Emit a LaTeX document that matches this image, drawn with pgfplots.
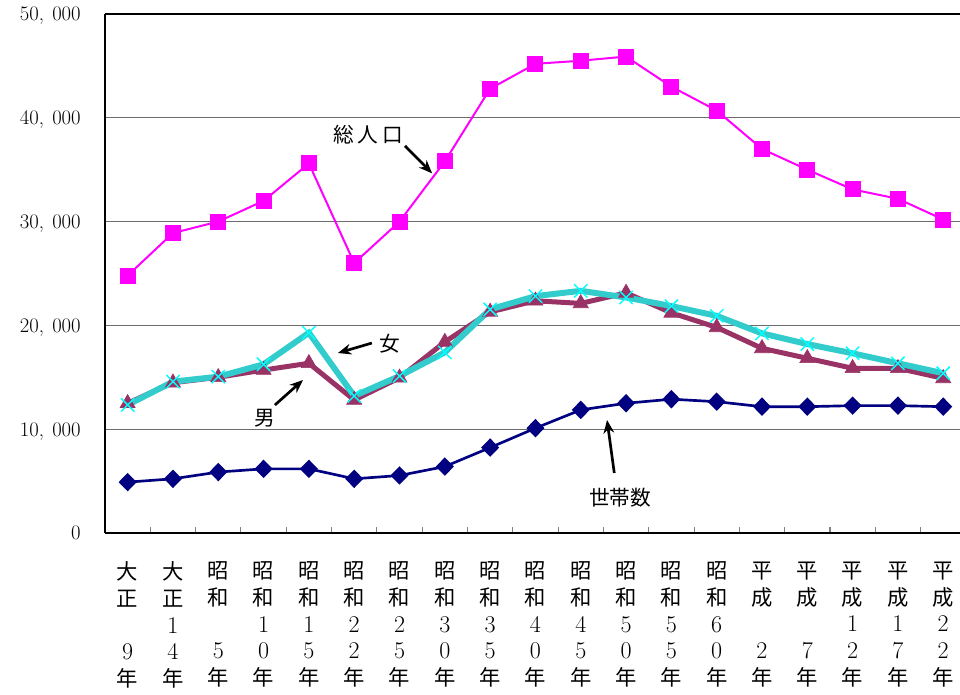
\documentclass[border=0pt]{standalone}
\usepackage{fontspec}
\usepackage{pgfplots}
\pgfplotsset{compat=1.18}
\usetikzlibrary{arrows.meta}
\newfontfamily\jp{Noto Sans CJK JP}
\definecolor{tot}{HTML}{FF00FF}
\definecolor{menc}{HTML}{993366}
\definecolor{womc}{HTML}{33CCCC}
\definecolor{womm}{HTML}{00FFFF}
\definecolor{hh}{HTML}{000080}
\newcommand{\dg}[1]{{\fontsize{18pt}{20pt}\selectfont #1}}
\newcommand{\lab}[4]{{\jp #1}\\{\jp #2}\\#3\\\dg{#4}\\{\jp 年}}
\begin{document}
\begin{tikzpicture}
\begin{axis}[
  at={(78.75pt,121.5pt)}, anchor=south west,
  scale only axis, width=641.25pt, height=389.25pt,
  xmin=-0.5, xmax=18.37, ymin=0, ymax=50000,
  axis y line*=left, axis x line*=box,
  axis line style={line width=1pt, black},
  xtick={0,...,18},
  xtick pos=left,
  major x tick style={draw=none},
  minor xtick={0.5,1.5,...,17.5},
  minor x tick style={gray, line width=0.8pt},
  minor tick length=4.5pt,
  tick align=inside,
  xticklabels={
    \lab{大}{正}{\mbox{}}{9},
    \lab{大}{正}{\dg{1}}{4},
    \lab{昭}{和}{\mbox{}}{5},
    \lab{昭}{和}{\dg{1}}{0},
    \lab{昭}{和}{\dg{1}}{5},
    \lab{昭}{和}{\dg{2}}{2},
    \lab{昭}{和}{\dg{2}}{5},
    \lab{昭}{和}{\dg{3}}{0},
    \lab{昭}{和}{\dg{3}}{5},
    \lab{昭}{和}{\dg{4}}{0},
    \lab{昭}{和}{\dg{4}}{5},
    \lab{昭}{和}{\dg{5}}{0},
    \lab{昭}{和}{\dg{5}}{5},
    \lab{昭}{和}{\dg{6}}{0},
    \lab{平}{成}{\mbox{}}{2},
    \lab{平}{成}{\mbox{}}{7},
    \lab{平}{成}{\dg{1}}{2},
    \lab{平}{成}{\dg{1}}{7},
    \lab{平}{成}{\dg{2}}{2}},
  xticklabel style={anchor=north, inner sep=0pt, yshift=-21.5pt, align=center,
    font=\fontsize{16pt}{20pt}\selectfont},
  ytick={0,10000,20000,30000,40000,50000},
  yticklabels={0,{10,\hspace{0.4em}000},{20,\hspace{0.4em}000},{30,\hspace{0.4em}000},{40,\hspace{0.4em}000},{50,\hspace{0.4em}000}},
  yticklabel style={anchor=east, inner sep=0pt, xshift=-18pt, text depth=0pt, font=\fontsize{15.5pt}{18pt}\selectfont},
  major y tick style={draw=none},
  ymajorgrids,
  major grid style={gray!85!black, line width=0.8pt},
]
\addplot[tot, line width=1.5pt, mark=square*, mark size=5.25pt, mark options={solid, fill=tot, draw=tot}]
  coordinates {(0,24800)(1,28900)(2,30000)(3,32000)(4,35600)(5,26000)(6,30000)(7,35800)(8,42800)(9,45200)(10,45500)(11,45900)(12,43000)(13,40700)(14,37000)(15,35000)(16,33100)(17,32200)(18,30200)};
\addplot[menc, line width=3.75pt, mark=triangle*, mark size=6.5pt, mark options={solid, fill=menc, draw=menc, line width=0.5pt}]
  coordinates {(0,12500)(1,14480)(2,15000)(3,15700)(4,16350)(5,12820)(6,14950)(7,18400)(8,21300)(9,22370)(10,22120)(11,23130)(12,21210)(13,19810)(14,17790)(15,16830)(16,15870)(17,15870)(18,14900)};
\addplot[womc, line width=4.5pt, mark=x, mark size=7pt, mark options={solid, draw=womm, line width=1.1pt}]
  coordinates {(0,12340)(1,14580)(2,15060)(3,16250)(4,19290)(5,13200)(6,15120)(7,17400)(8,21540)(9,22820)(10,23330)(11,22690)(12,21860)(13,20920)(14,19230)(15,18200)(16,17310)(17,16350)(18,15390)};
\addplot[hh, line width=2pt, mark=diamond*, mark size=5.5pt, mark options={solid, fill=hh, draw=hh, xscale=1.3}]
  coordinates {(0,4900)(1,5220)(2,5870)(3,6180)(4,6180)(5,5220)(6,5540)(7,6400)(8,8230)(9,10100)(10,11860)(11,12500)(12,12890)(13,12650)(14,12170)(15,12170)(16,12270)(17,12270)(18,12170)};
\node[font=\jp\fontsize{15.5pt}{18pt}\selectfont] at (axis cs:5.31,38350) {総\hspace{3pt}人\hspace{3pt}口};
\draw[line width=2pt, -{Stealth[length=10pt,width=8pt]}] (axis cs:6.12,37300) -- (axis cs:6.72,34650);
\node[font=\jp\fontsize{15.5pt}{18pt}\selectfont] at (axis cs:5.79,18210) {女};
\draw[line width=2pt, -{Stealth[length=10pt,width=8pt]}] (axis cs:5.39,18300) -- (axis cs:4.64,17340);
\node[font=\jp\fontsize{15.5pt}{18pt}\selectfont] at (axis cs:3.03,11080) {男};
\draw[line width=2pt, -{Stealth[length=10pt,width=8pt]}] (axis cs:3.25,12330) -- (axis cs:3.87,14740);
\node[font=\jp\fontsize{15.5pt}{18pt}\selectfont] at (axis cs:10.87,3370) {世帯数};
\draw[line width=2pt, -{Stealth[length=10pt,width=8pt]}] (axis cs:10.74,5780) -- (axis cs:10.58,10890);
\end{axis}
\pgfresetboundingbox
\useasboundingbox (0,0) rectangle (720pt,521.25pt);
\end{tikzpicture}
\end{document}
